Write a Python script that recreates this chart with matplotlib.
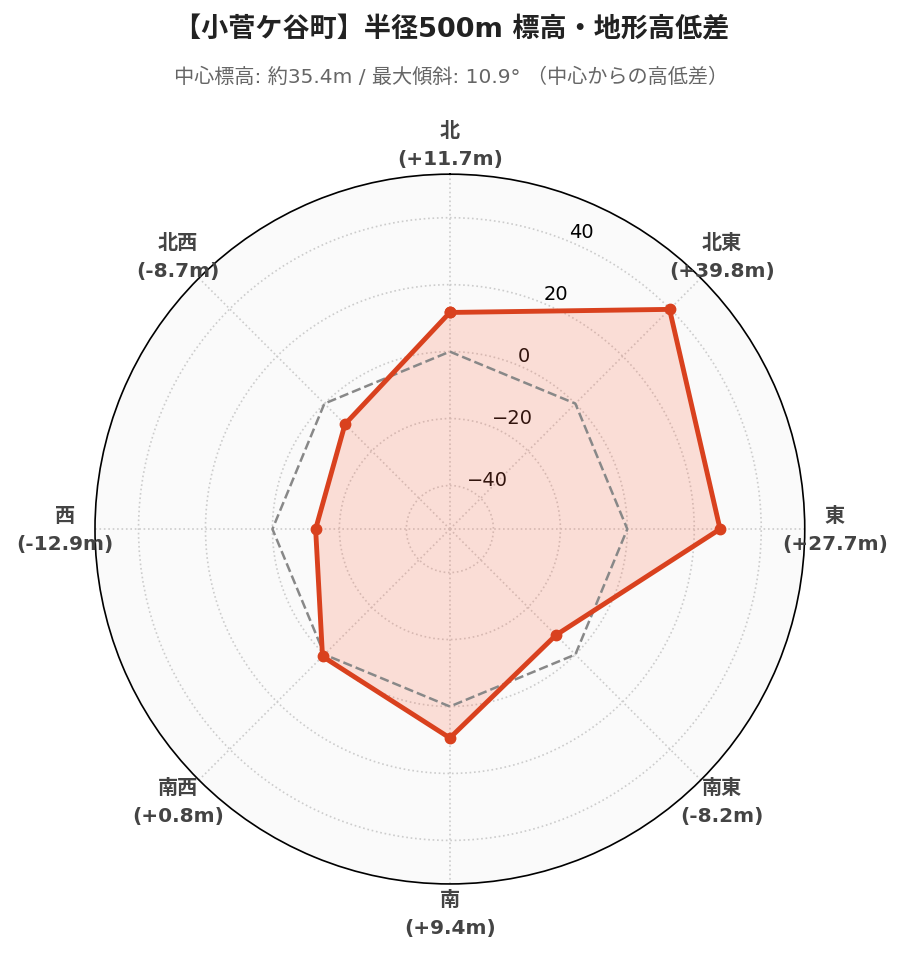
import matplotlib
matplotlib.use('Agg')
import matplotlib.pyplot as plt
import numpy as np

plt.rcParams['font.family'] = ['DejaVu Sans', 'Noto Sans CJK JP']

directions = ['北', '北東', '東', '南東', '南', '南西', '西', '北西']
diffs = [11.7, 39.8, 27.7, -8.2, 9.4, 0.8, -12.9, -8.7]
rticks = [-40, -20, 0, 20, 40]
rlim = 53

title = '【小菅ケ谷町】半径500m 標高・地形高低差'
subtitle = '中心標高: 約35.4m / 最大傾斜: 10.9° （中心からの高低差）'

angles = np.deg2rad(np.arange(len(directions)) * 45)
ang_c = np.append(angles, angles[0])
vals_c = np.append(diffs, diffs[0])
zero_c = np.zeros(len(ang_c))

fig = plt.figure(figsize=(9.03, 9.62), dpi=100)
ax = fig.add_axes([0.1052, 0.080, 0.786, 0.738], polar=True)
ax.set_theta_zero_location('N')
ax.set_theta_direction(-1)
ax.set_facecolor('#fafafa')
ax.set_ylim(-rlim, rlim)

ax.plot(ang_c, zero_c, '--', color='#888888', linewidth=1.8, zorder=3)
ax.fill(ang_c, vals_c, color='#ff6a48', alpha=0.2, zorder=2)
ax.plot(ang_c, vals_c, '-o', color='#d9411e', linewidth=3.5, markersize=7.5, zorder=4)

ax.set_yticks(rticks)
ax.set_yticklabels([f'{t}'.replace('-', '\u2212') for t in rticks], fontsize=14)
ax.set_rlabel_position(22.5)

ax.set_xticks(angles)
ax.set_xticklabels([])
# direction labels centred just outside the rim
r_lab = rlim + 2 * rlim * 30 / 355
for a, d, v in zip(angles, directions, diffs):
    ax.text(a, r_lab, f'{d}\n({v:+.1f}m)', ha='center', va='center',
            fontsize=14.5, fontweight='bold', color='#444444',
            linespacing=1.6, clip_on=False)

ax.grid(True, color='#cccccc', linestyle=':', linewidth=1.2)
ax.spines['polar'].set_color('black')
ax.spines['polar'].set_linewidth(1.2)

fig.text(0.5, 0.968, title, ha='center', va='center', fontsize=19.5, fontweight='bold', color='#222222')
fig.text(0.5, 0.920, subtitle, ha='center', va='center', fontsize=14.5, color='#666666')

fig.savefig('out.png', dpi=100)
